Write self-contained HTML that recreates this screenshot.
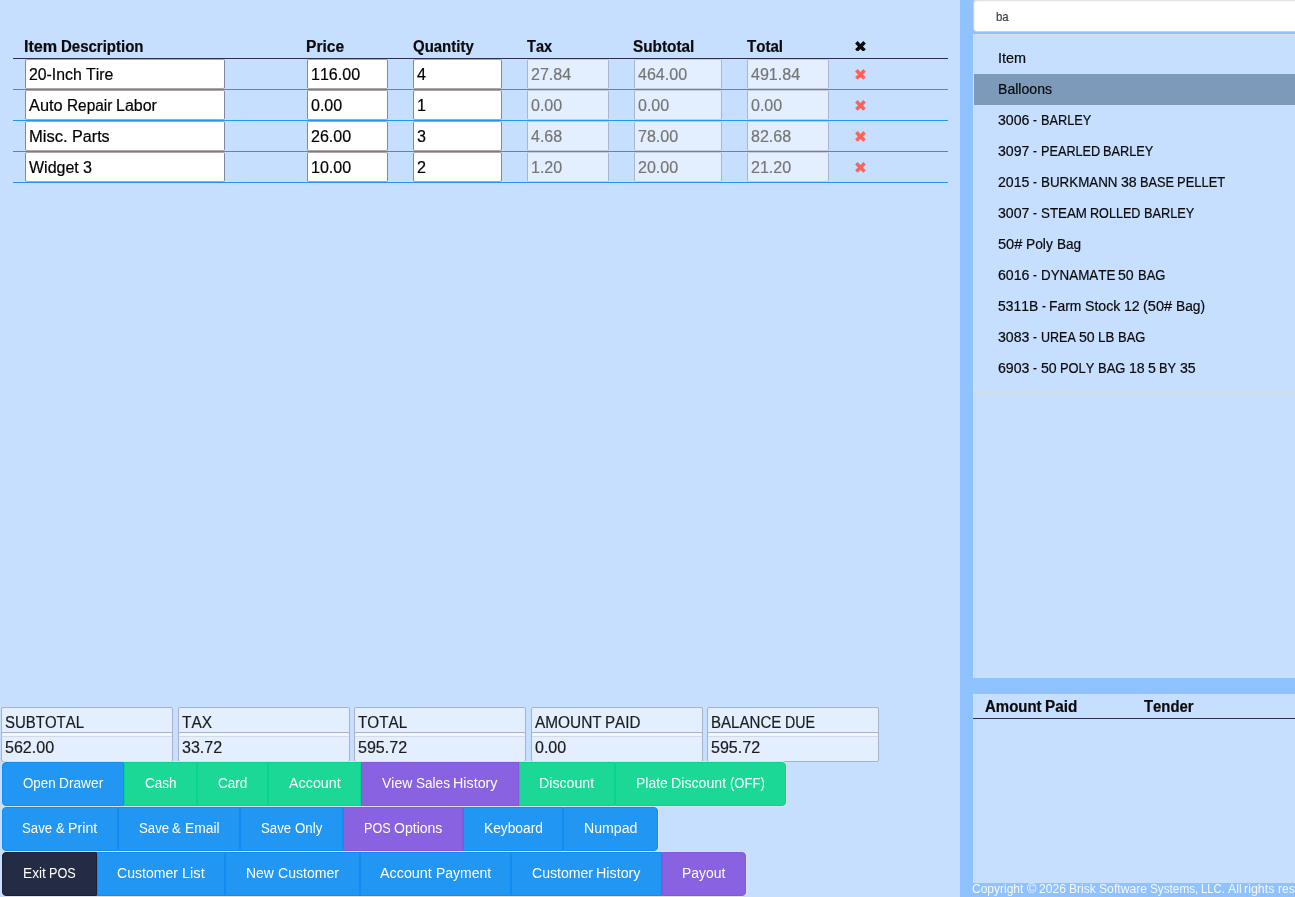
<!DOCTYPE html>
<html><head><meta charset="utf-8"><title>POS</title>
<style>
html,body{margin:0;padding:0}
body{width:1295px;height:897px;overflow:hidden;position:relative;background:#c6dfff;font-family:"Liberation Sans",sans-serif}
div,span,svg,b{position:absolute;box-sizing:border-box}
.t{white-space:nowrap;line-height:1;display:block;-webkit-text-stroke:0.2px;font-kerning:none}
.w{-webkit-text-stroke:0}
.t b{left:0;top:0;font-weight:inherit;transform-origin:0 0;display:block}
#tx{left:0;top:0;width:1295px;height:897px;will-change:transform}
.in{background:#fff;border:1px solid #85889a;border-top-color:rgba(118,108,118,.6);border-bottom-color:rgba(118,108,118,.6);border-radius:2px;height:30px}
.di{background:rgba(255,255,255,.5);border:1px solid #aab5ce;border-top-color:#c3cbdc;border-bottom-color:#c3cbdc;border-radius:2px;height:30px}
.sm{border-color:#a9b2ca}
</style></head><body>
<div style="left:960px;top:0;width:335px;height:897px;background:#90c2ff"></div>
<div style="left:973px;top:34px;width:322px;height:644px;background:#c6dfff"></div>
<div style="left:973px;top:694px;width:322px;height:189px;background:#c6dfff"></div>
<div style="left:973px;top:718px;width:322px;height:1px;background:#2b2f4e"></div>
<div style="left:973px;top:-1px;width:340px;height:33px;background:#fff;border:1px solid #cdd2db;border-radius:4px;box-shadow:inset 0 1px 2px rgba(10,10,10,.14)"></div>
<div style="left:973px;top:34px;width:340px;height:359px;background:#c6dfff;border:1px solid #d9dde4;border-radius:4px"></div>
<div style="left:974px;top:74px;width:321px;height:31px;background:#7d9aba"></div>
<div style="left:13px;top:58px;width:935px;height:1px;background:#2b2f4e"></div>
<div class="in" style="left:25px;top:59px;width:200px"></div><div class="in" style="left:307px;top:59px;width:81px"></div><div class="in" style="left:413px;top:59px;width:89px"></div><div class="di" style="left:527px;top:59px;width:82px"></div><div class="di" style="left:634px;top:59px;width:88px"></div><div class="di" style="left:747px;top:59px;width:82px"></div><div style="left:13px;top:89px;width:935px;height:1px;background:#2196f3"></div>
<div class="in" style="left:25px;top:90px;width:200px"></div><div class="in" style="left:307px;top:90px;width:81px"></div><div class="in" style="left:413px;top:90px;width:89px"></div><div class="di" style="left:527px;top:90px;width:82px"></div><div class="di" style="left:634px;top:90px;width:88px"></div><div class="di" style="left:747px;top:90px;width:82px"></div><div style="left:13px;top:120px;width:935px;height:1px;background:#2196f3"></div>
<div class="in" style="left:25px;top:121px;width:200px"></div><div class="in" style="left:307px;top:121px;width:81px"></div><div class="in" style="left:413px;top:121px;width:89px"></div><div class="di" style="left:527px;top:121px;width:82px"></div><div class="di" style="left:634px;top:121px;width:88px"></div><div class="di" style="left:747px;top:121px;width:82px"></div><div style="left:13px;top:151px;width:935px;height:1px;background:#2196f3"></div>
<div class="in" style="left:25px;top:152px;width:200px"></div><div class="in" style="left:307px;top:152px;width:81px"></div><div class="in" style="left:413px;top:152px;width:89px"></div><div class="di" style="left:527px;top:152px;width:82px"></div><div class="di" style="left:634px;top:152px;width:88px"></div><div class="di" style="left:747px;top:152px;width:82px"></div><div style="left:13px;top:182px;width:935px;height:1px;background:#2196f3"></div>
<svg style="left:855.00px;top:40.60px" width="10.9" height="10.9" viewBox="-10 -10 20 20"><path fill="#0a0a0a" d="M-9.8-5.2L-5.2-9.8L0-4.6L5.2-9.8L9.8-5.2L4.6 0L9.8 5.2L5.2 9.8L0 4.6L-5.2 9.8L-9.8 5.2L-4.6 0Z"/></svg>
<svg style="left:855.00px;top:68.75px" width="10.9" height="10.9" viewBox="-10 -10 20 20"><path fill="#ff6357" d="M-9.8-5.2L-5.2-9.8L0-4.6L5.2-9.8L9.8-5.2L4.6 0L9.8 5.2L5.2 9.8L0 4.6L-5.2 9.8L-9.8 5.2L-4.6 0Z"/></svg>
<svg style="left:855.00px;top:99.75px" width="10.9" height="10.9" viewBox="-10 -10 20 20"><path fill="#ff6357" d="M-9.8-5.2L-5.2-9.8L0-4.6L5.2-9.8L9.8-5.2L4.6 0L9.8 5.2L5.2 9.8L0 4.6L-5.2 9.8L-9.8 5.2L-4.6 0Z"/></svg>
<svg style="left:855.00px;top:130.75px" width="10.9" height="10.9" viewBox="-10 -10 20 20"><path fill="#ff6357" d="M-9.8-5.2L-5.2-9.8L0-4.6L5.2-9.8L9.8-5.2L4.6 0L9.8 5.2L5.2 9.8L0 4.6L-5.2 9.8L-9.8 5.2L-4.6 0Z"/></svg>
<svg style="left:855.00px;top:161.75px" width="10.9" height="10.9" viewBox="-10 -10 20 20"><path fill="#ff6357" d="M-9.8-5.2L-5.2-9.8L0-4.6L5.2-9.8L9.8-5.2L4.6 0L9.8 5.2L5.2 9.8L0 4.6L-5.2 9.8L-9.8 5.2L-4.6 0Z"/></svg>
<div class="di sm" style="left:1px;top:707px;width:172px"></div><div class="di sm" style="left:1px;top:732px;width:172px"></div>
<div class="di sm" style="left:178px;top:707px;width:172px"></div><div class="di sm" style="left:178px;top:732px;width:172px"></div>
<div class="di sm" style="left:354px;top:707px;width:172px"></div><div class="di sm" style="left:354px;top:732px;width:172px"></div>
<div class="di sm" style="left:531px;top:707px;width:172px"></div><div class="di sm" style="left:531px;top:732px;width:172px"></div>
<div class="di sm" style="left:707px;top:707px;width:172px"></div><div class="di sm" style="left:707px;top:732px;width:172px"></div>
<div style="left:1px;top:761px;width:786px;height:46px;background:#dfe1e8;border-radius:5px"></div>
<div style="left:2px;top:762px;width:122px;height:44px;background:#2196f3;border:1px solid #118cf1;border-radius:4px 0 0 4px"></div>
<div style="left:124px;top:762px;width:73px;height:44px;background:#1cd896;border:1px solid #06d68b;border-radius:0"></div>
<div style="left:197px;top:762px;width:71px;height:44px;background:#1cd896;border:1px solid #06d68b;border-radius:0"></div>
<div style="left:268px;top:762px;width:93px;height:44px;background:#1cd896;border:1px solid #06d68b;border-radius:0"></div>
<div style="left:361px;top:762px;width:158px;height:44px;background:#8862e0;border:1px solid #8258de;border-radius:0"></div>
<div style="left:519px;top:762px;width:96px;height:44px;background:#1cd896;border:1px solid #06d68b;border-radius:0"></div>
<div style="left:615px;top:762px;width:171px;height:44px;background:#1cd896;border:1px solid #06d68b;border-radius:0 4px 4px 0"></div>
<div style="left:1px;top:806px;width:658px;height:46px;background:#dfe1e8;border-radius:5px"></div>
<div style="left:2px;top:807px;width:116px;height:44px;background:#2196f3;border:1px solid #118cf1;border-radius:4px 0 0 4px"></div>
<div style="left:118px;top:807px;width:122px;height:44px;background:#2196f3;border:1px solid #118cf1;border-radius:0"></div>
<div style="left:240px;top:807px;width:103px;height:44px;background:#2196f3;border:1px solid #118cf1;border-radius:0"></div>
<div style="left:343px;top:807px;width:120px;height:44px;background:#8862e0;border:1px solid #8258de;border-radius:0"></div>
<div style="left:463px;top:807px;width:100px;height:44px;background:#2196f3;border:1px solid #118cf1;border-radius:0"></div>
<div style="left:563px;top:807px;width:95px;height:44px;background:#2196f3;border:1px solid #118cf1;border-radius:0 4px 4px 0"></div>
<div style="left:1px;top:851px;width:746px;height:46px;background:#dfe1e8;border-radius:5px"></div>
<div style="left:2px;top:852px;width:95px;height:44px;background:#242b45;border:1px solid #1b1f38;border-radius:4px 0 0 4px"></div>
<div style="left:97px;top:852px;width:128px;height:44px;background:#2196f3;border:1px solid #118cf1;border-radius:0"></div>
<div style="left:225px;top:852px;width:135px;height:44px;background:#2196f3;border:1px solid #118cf1;border-radius:0"></div>
<div style="left:360px;top:852px;width:151px;height:44px;background:#2196f3;border:1px solid #118cf1;border-radius:0"></div>
<div style="left:511px;top:852px;width:151px;height:44px;background:#2196f3;border:1px solid #118cf1;border-radius:0"></div>
<div style="left:662px;top:852px;width:84px;height:44px;background:#8862e0;border:1px solid #8258de;border-radius:0 4px 4px 0"></div>
<div id="tx">
<span class="t" style="left:25.70px;top:39px;font-size:16px;color:#0a0a0a;font-weight:700"><b id="w0" style="left:-1.50px;transform:scaleX(1.0093)">Item</b> <b id="w1" style="left:35.81px;transform:scaleX(0.9374)">Description</b></span>
<span class="t" style="left:307.20px;top:39px;font-size:16px;color:#0a0a0a;font-weight:700"><b id="w2" style="left:-1.49px;transform:scaleX(0.9768)">Price</b></span>
<span class="t" style="left:413.60px;top:39px;font-size:16px;color:#0a0a0a;font-weight:700"><b id="w3" style="left:-0.40px;transform:scaleX(0.9355)">Quantity</b></span>
<span class="t" style="left:527.80px;top:39px;font-size:16px;color:#0a0a0a;font-weight:700"><b id="w4" style="left:-0.39px;transform:scaleX(0.9082)">Tax</b></span>
<span class="t" style="left:633.80px;top:39px;font-size:16px;color:#0a0a0a;font-weight:700"><b id="w5" style="left:-0.61px;transform:scaleX(0.9584)">Subtotal</b></span>
<span class="t" style="left:747.80px;top:39px;font-size:16px;color:#0a0a0a;font-weight:700"><b id="w6" style="left:-0.41px;transform:scaleX(0.9408)">Total</b></span>
<span class="t" style="left:29.00px;top:67px;font-size:16px;color:#000"><b id="w7" style="transform:scaleX(0.9883)">20-Inch</b> <b id="w8" style="left:56.71px;transform:scaleX(0.9912)">Tire</b></span>
<span class="t" style="left:311.00px;top:67px;font-size:16px;color:#000"><b id="w9" style="transform:scaleX(1.0040)">116.00</b></span>
<span class="t" style="left:417.00px;top:67px;font-size:16px;color:#000"><b id="w10" style="transform:scaleX(1.0088)">4</b></span>
<span class="t" style="left:531.00px;top:67px;font-size:16px;color:#767676"><b id="w11" style="transform:scaleX(1.0025)">27.84</b></span>
<span class="t" style="left:638.00px;top:67px;font-size:16px;color:#767676"><b id="w12" style="transform:scaleX(1.0040)">464.00</b></span>
<span class="t" style="left:751.00px;top:67px;font-size:16px;color:#767676"><b id="w13" style="transform:scaleX(1.0040)">491.84</b></span>
<span class="t" style="left:29.00px;top:98px;font-size:16px;color:#000"><b id="w14" style="transform:scaleX(1.0206)">Auto</b> <b id="w15" style="left:37.56px;transform:scaleX(0.9611)">Repair</b> <b id="w16" style="left:86.83px;transform:scaleX(0.9977)">Labor</b></span>
<span class="t" style="left:311.00px;top:98px;font-size:16px;color:#000"><b id="w17" style="transform:scaleX(1.0008)">0.00</b></span>
<span class="t" style="left:417.00px;top:98px;font-size:16px;color:#000"><b id="w18" style="transform:scaleX(1.0088)">1</b></span>
<span class="t" style="left:531.00px;top:98px;font-size:16px;color:#767676"><b id="w19" style="transform:scaleX(1.0008)">0.00</b></span>
<span class="t" style="left:638.00px;top:98px;font-size:16px;color:#767676"><b id="w20" style="transform:scaleX(1.0008)">0.00</b></span>
<span class="t" style="left:751.00px;top:98px;font-size:16px;color:#767676"><b id="w21" style="transform:scaleX(1.0008)">0.00</b></span>
<span class="t" style="left:29.00px;top:129px;font-size:16px;color:#000"><b id="w22" style="transform:scaleX(1.0364)">Misc.</b> <b id="w23" style="left:42.65px;transform:scaleX(1.0092)">Parts</b></span>
<span class="t" style="left:311.00px;top:129px;font-size:16px;color:#000"><b id="w24" style="transform:scaleX(1.0025)">26.00</b></span>
<span class="t" style="left:417.00px;top:129px;font-size:16px;color:#000"><b id="w25" style="transform:scaleX(1.0088)">3</b></span>
<span class="t" style="left:531.00px;top:129px;font-size:16px;color:#767676"><b id="w26" style="transform:scaleX(1.0008)">4.68</b></span>
<span class="t" style="left:638.00px;top:129px;font-size:16px;color:#767676"><b id="w27" style="transform:scaleX(1.0025)">78.00</b></span>
<span class="t" style="left:751.00px;top:129px;font-size:16px;color:#767676"><b id="w28" style="transform:scaleX(1.0025)">82.68</b></span>
<span class="t" style="left:29.00px;top:160px;font-size:16px;color:#000"><b id="w29" style="transform:scaleX(0.9997)">Widget</b> <b id="w30" style="left:53.74px;transform:scaleX(1.0088)">3</b></span>
<span class="t" style="left:311.00px;top:160px;font-size:16px;color:#000"><b id="w31" style="transform:scaleX(1.0025)">10.00</b></span>
<span class="t" style="left:417.00px;top:160px;font-size:16px;color:#000"><b id="w32" style="transform:scaleX(1.0088)">2</b></span>
<span class="t" style="left:531.00px;top:160px;font-size:16px;color:#767676"><b id="w33" style="transform:scaleX(1.0008)">1.20</b></span>
<span class="t" style="left:638.00px;top:160px;font-size:16px;color:#767676"><b id="w34" style="transform:scaleX(1.0025)">20.00</b></span>
<span class="t" style="left:751.00px;top:160px;font-size:16px;color:#767676"><b id="w35" style="transform:scaleX(1.0025)">21.20</b></span>
<span class="t" style="left:998.40px;top:51px;font-size:14px;color:#0a0a0a"><b id="w36" style="transform:scaleX(1.0306)">Item</b></span>
<span class="t" style="left:998.40px;top:82px;font-size:14px;color:#0a0a0a"><b id="w37" style="transform:scaleX(1.0062)">Balloons</b></span>
<span class="t" style="left:998.40px;top:113px;font-size:14px;color:#0a0a0a"><b id="w38" style="transform:scaleX(1.0093)">3006</b> <b id="w39" style="left:34.91px;transform:scaleX(0.8267)">-</b> <b id="w40" style="left:42.24px;transform:scaleX(0.9116)">BARLEY</b></span>
<span class="t" style="left:998.40px;top:144px;font-size:14px;color:#0a0a0a"><b id="w41" style="transform:scaleX(1.0093)">3097</b> <b id="w42" style="left:34.91px;transform:scaleX(0.8267)">-</b> <b id="w43" style="left:42.24px;transform:scaleX(0.9060)">PEARLED</b> <b id="w44" style="left:104.92px;transform:scaleX(0.9116)">BARLEY</b></span>
<span class="t" style="left:998.40px;top:175px;font-size:14px;color:#0a0a0a"><b id="w45" style="transform:scaleX(1.0093)">2015</b> <b id="w46" style="left:34.91px;transform:scaleX(0.8267)">-</b> <b id="w47" style="left:42.24px;transform:scaleX(0.9549)">BURKMANN</b> <b id="w48" style="left:122.21px;transform:scaleX(1.0093)">38</b> <b id="w49" style="left:141.40px;transform:scaleX(0.9131)">BASE</b> <b id="w50" style="left:178.98px;transform:scaleX(0.9238)">PELLET</b></span>
<span class="t" style="left:998.40px;top:206px;font-size:14px;color:#0a0a0a"><b id="w51" style="transform:scaleX(1.0093)">3007</b> <b id="w52" style="left:34.91px;transform:scaleX(0.8267)">-</b> <b id="w53" style="left:42.24px;transform:scaleX(0.9531)">STEAM</b> <b id="w54" style="left:91.68px;transform:scaleX(0.9004)">ROLLED</b> <b id="w55" style="left:145.59px;transform:scaleX(0.9116)">BARLEY</b></span>
<span class="t" style="left:998.40px;top:237px;font-size:14px;color:#0a0a0a"><b id="w56" style="transform:scaleX(1.0421)">50#</b> <b id="w57" style="left:27.81px;transform:scaleX(0.9854)">Poly</b> <b id="w58" style="left:58.11px;transform:scaleX(0.9705)">Bag</b></span>
<span class="t" style="left:998.40px;top:268px;font-size:14px;color:#0a0a0a"><b id="w59" style="transform:scaleX(1.0093)">6016</b> <b id="w60" style="left:34.91px;transform:scaleX(0.8267)">-</b> <b id="w61" style="left:42.24px;transform:scaleX(0.9559)">DYNAMATE</b> <b id="w62" style="left:120.07px;transform:scaleX(1.0093)">50</b> <b id="w63" style="left:139.26px;transform:scaleX(0.9258)">BAG</b></span>
<span class="t" style="left:998.40px;top:299px;font-size:14px;color:#0a0a0a"><b id="w64" style="transform:scaleX(0.9920)">5311B</b> <b id="w65" style="left:43.63px;transform:scaleX(0.8267)">-</b> <b id="w66" style="left:50.96px;transform:scaleX(0.9905)">Farm</b> <b id="w67" style="left:86.78px;transform:scaleX(1.0078)">Stock</b> <b id="w68" style="left:125.54px;transform:scaleX(1.0093)">12</b> <b id="w69" style="left:144.72px;transform:scaleX(1.0391)">(50#</b> <b id="w70" style="left:177.32px;transform:scaleX(0.9822)">Bag)</b></span>
<span class="t" style="left:998.40px;top:330px;font-size:14px;color:#0a0a0a"><b id="w71" style="transform:scaleX(1.0093)">3083</b> <b id="w72" style="left:34.91px;transform:scaleX(0.8267)">-</b> <b id="w73" style="left:42.24px;transform:scaleX(0.8942)">UREA</b> <b id="w74" style="left:80.49px;transform:scaleX(1.0093)">50</b> <b id="w75" style="left:99.68px;transform:scaleX(0.9488)">LB</b> <b id="w76" style="left:119.40px;transform:scaleX(0.9258)">BAG</b></span>
<span class="t" style="left:998.40px;top:361px;font-size:14px;color:#0a0a0a"><b id="w77" style="transform:scaleX(1.0093)">6903</b> <b id="w78" style="left:34.91px;transform:scaleX(0.8267)">-</b> <b id="w79" style="left:42.24px;transform:scaleX(1.0093)">50</b> <b id="w80" style="left:61.43px;transform:scaleX(0.9207)">POLY</b> <b id="w81" style="left:99.29px;transform:scaleX(0.9258)">BAG</b> <b id="w82" style="left:130.14px;transform:scaleX(1.0093)">18</b> <b id="w83" style="left:149.33px;transform:scaleX(1.0083)">5</b> <b id="w84" style="left:160.66px;transform:scaleX(0.9163)">BY</b> <b id="w85" style="left:181.25px;transform:scaleX(1.0093)">35</b></span>
<span class="t" style="left:996.00px;top:10px;font-size:13.5px;color:#3a3f4a"><b id="w86" style="left:-0.22px;transform:scaleX(0.8454)">ba</b></span>
<span class="t" style="left:985.30px;top:699px;font-size:16px;color:#0a0a0a;font-weight:700"><b id="w87" style="left:-0.80px;transform:scaleX(0.9359)">Amount</b> <b id="w88" style="left:60.04px;transform:scaleX(0.9563)">Paid</b></span>
<span class="t" style="left:1144.30px;top:699px;font-size:16px;color:#0a0a0a;font-weight:700"><b id="w89" style="left:-0.48px;transform:scaleX(0.9274)">Tender</b></span>
<span class="t w" style="left:972.40px;top:883px;font-size:12px;color:rgba(255,255,255,0.9)"><b id="w90" style="transform:scaleX(0.9988)">Copyright</b> <b id="w91" style="left:54.27px;transform:scaleX(1.0660)">©</b> <b id="w92" style="left:66.67px;transform:scaleX(1.0094)">2026</b> <b id="w93" style="left:96.59px;transform:scaleX(1.0015)">Brisk</b> <b id="w94" style="left:126.28px;transform:scaleX(1.0137)">Software</b> <b id="w95" style="left:177.25px;transform:scaleX(0.9793)">Systems,</b> <b id="w96" style="left:228.54px;transform:scaleX(0.9418)">LLC.</b> <b id="w97" style="left:255.40px;transform:scaleX(1.0231)">All</b> <b id="w98" style="left:272.02px;transform:scaleX(1.0367)">rights</b> <b id="w99" style="left:305.41px;transform:scaleX(0.9818)">reserved.</b></span>
<span class="t" style="left:5.00px;top:715px;font-size:16px;color:#1c1c1c"><b id="w100" style="transform:scaleX(0.9349)">SUBTOTAL</b></span>
<span class="t" style="left:5.00px;top:740px;font-size:16px;color:#1c1c1c"><b id="w101" style="transform:scaleX(1.0040)">562.00</b></span>
<span class="t" style="left:181.50px;top:715px;font-size:16px;color:#1c1c1c"><b id="w102" style="transform:scaleX(0.9644)">TAX</b></span>
<span class="t" style="left:181.50px;top:740px;font-size:16px;color:#1c1c1c"><b id="w103" style="transform:scaleX(1.0025)">33.72</b></span>
<span class="t" style="left:358.00px;top:715px;font-size:16px;color:#1c1c1c"><b id="w104" style="transform:scaleX(0.9530)">TOTAL</b></span>
<span class="t" style="left:358.00px;top:740px;font-size:16px;color:#1c1c1c"><b id="w105" style="transform:scaleX(1.0040)">595.72</b></span>
<span class="t" style="left:534.50px;top:715px;font-size:16px;color:#1c1c1c"><b id="w106" style="transform:scaleX(0.9626)">AMOUNT</b> <b id="w107" style="left:70.70px;transform:scaleX(0.9473)">PAID</b></span>
<span class="t" style="left:534.50px;top:740px;font-size:16px;color:#1c1c1c"><b id="w108" style="transform:scaleX(1.0008)">0.00</b></span>
<span class="t" style="left:711.00px;top:715px;font-size:16px;color:#1c1c1c"><b id="w109" style="transform:scaleX(0.9419)">BALANCE</b> <b id="w110" style="left:74.32px;transform:scaleX(0.8869)">DUE</b></span>
<span class="t" style="left:711.00px;top:740px;font-size:16px;color:#1c1c1c"><b id="w111" style="transform:scaleX(1.0040)">595.72</b></span>
<span class="t w" style="left:22.86px;top:776px;font-size:14px;color:#fff"><b id="w112" style="transform:scaleX(0.9524)">Open</b> <b id="w113" style="left:36.09px;transform:scaleX(0.9795)">Drawer</b></span>
<span class="t w" style="left:144.67px;top:776px;font-size:14px;color:#fff"><b id="w114" style="transform:scaleX(0.9685)">Cash</b></span>
<span class="t w" style="left:217.82px;top:776px;font-size:14px;color:#fff"><b id="w115" style="transform:scaleX(0.9671)">Card</b></span>
<span class="t w" style="left:288.61px;top:776px;font-size:14px;color:#fff"><b id="w116" style="transform:scaleX(1.0235)">Account</b></span>
<span class="t w" style="left:382.18px;top:776px;font-size:14px;color:#fff"><b id="w117" style="transform:scaleX(0.9959)">View</b> <b id="w118" style="left:33.70px;transform:scaleX(0.9693)">Sales</b> <b id="w119" style="left:71.12px;transform:scaleX(1.0219)">History</b></span>
<span class="t w" style="left:539.44px;top:776px;font-size:14px;color:#fff"><b id="w120" style="transform:scaleX(1.0119)">Discount</b></span>
<span class="t w" style="left:636.18px;top:776px;font-size:14px;color:#fff"><b id="w121" style="transform:scaleX(0.9973)">Plate</b> <b id="w122" style="left:35.30px;transform:scaleX(1.0119)">Discount</b> <b id="w123" style="left:93.88px;transform:scaleX(0.9310)">(OFF)</b></span>
<span class="t w" style="left:22.49px;top:821px;font-size:14px;color:#fff"><b id="w124" style="transform:scaleX(0.9435)">Save</b> <b id="w125" style="left:33.58px;transform:scaleX(0.9313)">&amp;</b> <b id="w126" style="left:45.75px;transform:scaleX(1.0162)">Print</b></span>
<span class="t w" style="left:138.80px;top:821px;font-size:14px;color:#fff"><b id="w127" style="transform:scaleX(0.9435)">Save</b> <b id="w128" style="left:33.58px;transform:scaleX(0.9313)">&amp;</b> <b id="w129" style="left:45.75px;transform:scaleX(0.9892)">Email</b></span>
<span class="t w" style="left:261.02px;top:821px;font-size:14px;color:#fff"><b id="w130" style="transform:scaleX(0.9435)">Save</b> <b id="w131" style="left:33.58px;transform:scaleX(0.9505)">Only</b></span>
<span class="t w" style="left:363.70px;top:821px;font-size:14px;color:#fff"><b id="w132" style="transform:scaleX(0.9048)">POS</b> <b id="w133" style="left:30.23px;transform:scaleX(1.0027)">Options</b></span>
<span class="t w" style="left:483.55px;top:821px;font-size:14px;color:#fff"><b id="w134" style="transform:scaleX(0.9828)">Keyboard</b></span>
<span class="t w" style="left:583.84px;top:821px;font-size:14px;color:#fff"><b id="w135" style="transform:scaleX(1.0077)">Numpad</b></span>
<span class="t w" style="left:22.95px;top:866px;font-size:14px;color:#fff"><b id="w136" style="transform:scaleX(0.9795)">Exit</b> <b id="w137" style="left:26.33px;transform:scaleX(0.9048)">POS</b></span>
<span class="t w" style="left:117.39px;top:866px;font-size:14px;color:#fff"><b id="w138" style="transform:scaleX(1.0056)">Customer</b> <b id="w139" style="left:64.49px;transform:scaleX(1.0425)">List</b></span>
<span class="t w" style="left:246.30px;top:866px;font-size:14px;color:#fff"><b id="w140" style="transform:scaleX(0.9963)">New</b> <b id="w141" style="left:31.38px;transform:scaleX(1.0056)">Customer</b></span>
<span class="t w" style="left:380.35px;top:866px;font-size:14px;color:#fff"><b id="w142" style="transform:scaleX(1.0235)">Account</b> <b id="w143" style="left:55.25px;transform:scaleX(0.9965)">Payment</b></span>
<span class="t w" style="left:532.00px;top:866px;font-size:14px;color:#fff"><b id="w144" style="transform:scaleX(1.0056)">Customer</b> <b id="w145" style="left:64.49px;transform:scaleX(1.0219)">History</b></span>
<span class="t w" style="left:682.33px;top:866px;font-size:14px;color:#fff"><b id="w146" style="transform:scaleX(0.9942)">Payout</b></span>
</div>
</body></html>
